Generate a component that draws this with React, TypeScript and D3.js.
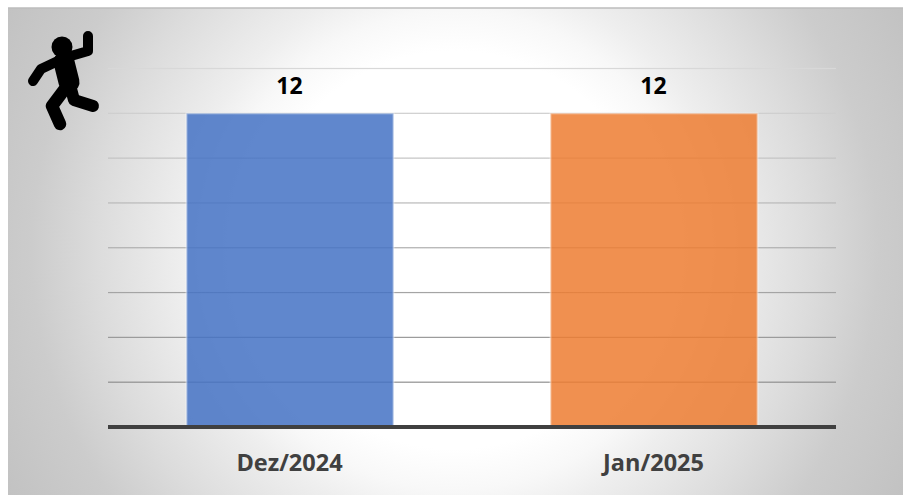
import * as d3 from "d3";

const categories = ["Dez/2024", "Jan/2025"];
const values = [12, 12];
const barColors = ["#4472c4", "#ed7d31"];
// the value axis is hidden; 12 sits on the 7th of 8 gridlines
const gridSteps = [1, 2, 3, 4, 5, 6, 7, 8];
const gridStep = 12 / 7;

const W = 903;
const H = 495;
const plot = { left: 108, right: 836, top: 68.5, bottom: 427 };

const x = d3
  .scaleBand<string>()
  .domain(categories)
  .range([plot.left, plot.right])
  .paddingInner(0.431)
  .paddingOuter(0.2155);
const y = d3
  .scaleLinear()
  .domain([0, gridStep * 8])
  .range([plot.bottom, plot.top]);

// runner icon in the top left corner
const limb = d3.line().curve(d3.curveLinear);
const figureLimbs: { pts: [number, number][]; w: number }[] = [
  { pts: [[64, 58], [88, 51], [88, 36]], w: 10 },
  { pts: [[60, 60], [41, 69], [33, 81]], w: 10 },
  { pts: [[64, 62], [69, 82]], w: 21 },
  { pts: [[70, 85], [74, 100], [93, 106]], w: 12 },
  { pts: [[67, 86], [52, 106], [60, 124]], w: 12.5 },
];

export default function App() {
  return (
    <svg
      width={W}
      height={H}
      style={{ position: "absolute", left: 0, top: 0, fontFamily: "'Open Sans', sans-serif" }}
    >
      <defs>
        <radialGradient id="panel-bg" gradientUnits="userSpaceOnUse" cx={455} cy={250} r={510}>
          <stop offset="0%" stopColor="#ffffff" />
          <stop offset="39%" stopColor="#ffffff" />
          <stop offset="47%" stopColor="#f8f8f8" />
          <stop offset="54%" stopColor="#eeeeee" />
          <stop offset="70%" stopColor="#dcdcdc" />
          <stop offset="83%" stopColor="#cccccc" />
          <stop offset="100%" stopColor="#c2c2c2" />
        </radialGradient>
        <linearGradient
          id="grid-stroke"
          gradientUnits="userSpaceOnUse"
          x1={0}
          y1={plot.top}
          x2={0}
          y2={plot.bottom}
        >
          <stop offset="0%" stopColor="#d8d8d8" />
          <stop offset="100%" stopColor="#858585" />
        </linearGradient>
      </defs>

      <rect x={8} y={8} width={W - 8} height={H - 8} fill="url(#panel-bg)" />
      <line x1={8} x2={W} y1={8} y2={8} stroke="#bdbdbd" strokeWidth={1.5} />

      {gridSteps.map((s) => (
        <rect
          key={s}
          x={plot.left}
          y={y(s * gridStep) - 0.6}
          width={plot.right - plot.left}
          height={1.2}
          fill="url(#grid-stroke)"
        />
      ))}

      {categories.map((c, i) => (
        <g key={c}>
          <rect
            x={x(c)}
            y={y(values[i])}
            width={x.bandwidth()}
            height={y(0) - y(values[i])}
            fill={barColors[i]}
            fillOpacity={0.85}
            stroke="#ffffff"
            strokeOpacity={0.4}
            strokeWidth={2}
          />
          <text
            x={x(c)! + x.bandwidth() / 2 - 0.5}
            y={y(values[i]) - 19}
            textAnchor="middle"
            fontSize={23}
            fontWeight={700}
            fill="#000000"
          >
            {values[i]}
          </text>
          <text
            x={x(c)! + x.bandwidth() / 2 - 0.5}
            y={471}
            textAnchor="middle"
            fontSize={23.5}
            fontWeight={700}
            fill="#404040"
          >
            {c}
          </text>
        </g>
      ))}

      <line
        x1={plot.left}
        x2={plot.right}
        y1={y(0)}
        y2={y(0)}
        stroke="#404040"
        strokeWidth={4}
      />

      <g fill="none" stroke="#000000" strokeLinecap="round" strokeLinejoin="round">
        {figureLimbs.map((l, i) => (
          <path key={i} d={limb(l.pts)!} strokeWidth={l.w} />
        ))}
        <circle cx={62} cy={47} r={10.5} fill="#000000" stroke="none" />
      </g>
    </svg>
  );
}
